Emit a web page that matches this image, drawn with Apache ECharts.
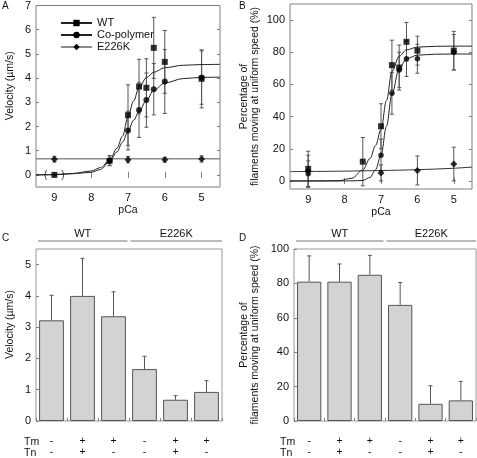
<!DOCTYPE html>
<html><head><meta charset="utf-8">
<script src="https://cdn.jsdelivr.net/npm/echarts@6/dist/echarts.min.js"></script>
<style>html,body{margin:0;padding:0;background:#fff}#c{width:477px;height:458px}</style>
</head><body><div id="c"></div>
<script>
// ---------- Panel A : velocity vs pCa ----------
const pcaWtA = [9, 7.5, 7, 6.7, 6.5, 6.3, 6, 5];
const wtVelA = [0, 0.58, 2.47, 3.65, 3.6, 5.25, 4.67, 3.97];
const wtVelErrA = [0, 0.2, 1.25, 1.13, 1.2, 1.26, 1.3, 1.2];
const pcaCoA = [9, 7.5, 7, 6.7, 6.5, 6.3, 6, 5];
const coVelA = [0, 0.6, 1.83, 2.68, 3.09, 3.54, 3.86, 4.02];
const coVelErrA = [0, 0.2, 0.8, 1.13, 1.12, 1.06, 1.32, 1.1];
const pcaEA = [9, 7, 6, 5];
const eVelA = [0.65, 0.63, 0.63, 0.66];
const eVelErrA = [0.12, 0.13, 0.1, 0.13];
const fitPcaA = [9.5, 9, 8.5, 8, 7.75, 7.5, 7.3, 7.15, 7, 6.85, 6.7, 6.5, 6.3, 6, 5.5, 5, 4.5];
const wtFitA = [0, 0.01, 0.06, 0.16, 0.3, 0.6, 1.1, 1.6, 2.4, 3.05, 3.6, 4.02, 4.24, 4.43, 4.53, 4.56, 4.57];
const coFitA = [0, 0.01, 0.05, 0.11, 0.22, 0.55, 0.95, 1.35, 1.8, 2.25, 2.62, 3.08, 3.5, 3.8, 3.98, 4.03, 4.04];
const eFitPcaA = [9.5, 4.5];
const eFitA = [0.67, 0.67];
const ticksA = [0, 1, 2, 3, 4, 5, 6, 7];
const pcaTicks = [9, 8, 7, 6, 5];

// ---------- Panel B : % uniform vs pCa ----------
const pcaWtB = [9, 7.5, 7, 6.7, 6.5, 6.3, 6, 5];
const wtPctB = [7.5, 12, 34, 72, 70.5, 86.5, 81, 81];
const wtPctErrB = [11, 15, 14, 15.5, 14, 12, 9, 12];
const pcaCoB = [9, 7, 6.7, 6.5, 6.3, 6, 5];
const coPctB = [4.5, 16, 54.5, 69, 76, 76, 80];
const coPctErrB = [8, 10, 13, 11, 11, 9, 11];
const pcaEB = [9, 7, 6, 5];
const ePctB = [6, 5, 6.5, 10.5];
const ePctErrB = [10, 5, 9, 10.5];
const fitPcaB = [9.5, 9, 8.5, 8.15, 7.8, 7.5, 7.3, 7.15, 7, 6.85, 6.7, 6.5, 6.3, 6, 5.5, 5, 4.5];
const wtFitB = [0, 0, 0.05, 0.2, 1.7, 6.8, 14, 22, 32, 50, 68, 77.5, 81.5, 83.2, 83.7, 83.8, 83.8];
const coFitB = [0, 0, 0, 0, 0.05, 0.3, 2.2, 7, 16, 34, 54, 70, 76, 78.2, 78.8, 78.9, 78.9];
const eFitPcaB = [9.5, 8, 7, 6, 5, 4.5];
const eFitB = [5.8, 6.1, 6.5, 7.0, 7.9, 8.6];
const ticksB = [0, 20, 40, 60, 80, 100];

// ---------- Panels C, D : bars ----------
const tmRow = ['-', '+', '+', '-', '+', '+'];
const tnRow = ['-', '+', '-', '-', '+', '-'];
const groups = ['WT', 'E226K'];
const velC = [3.22, 4.0, 3.35, 1.66, 0.68, 0.93];
const velErrC = [0.8, 1.2, 0.78, 0.41, 0.13, 0.36];
const ticksC = [0, 1, 2, 3, 4, 5];
const pctD = [81, 81, 85, 67.5, 10, 12];
const pctErrD = [15, 10.3, 11.3, 13, 10.5, 11];

const FONT = 'Liberation Sans, Arial, sans-serif';
const zip = (xs, ys) => xs.map((x, i) => [x, ys[i]]);
const errData = (xs, ys, es) => xs.map((x, i) => [x, ys[i] - es[i], ys[i] + es[i]]);
const barErr = (ys, es) => ys.map((y, i) => [i, y, y + es[i]]);
const cats = tmRow.map((t, i) => t + '\n' + tnRow[i]);

function errRender(color, capBottom) {
  return function (params, api) {
    const x = api.value(0), lo = api.value(1), hi = api.value(2);
    const a = api.coord([x, lo]), b = api.coord([x, hi]);
    const c = 2;
    const st = { stroke: color, lineWidth: 1 };
    const ch = [
      { type: 'line', shape: { x1: a[0], y1: a[1], x2: b[0], y2: b[1] }, style: st },
      { type: 'line', shape: { x1: b[0] - c, y1: b[1], x2: b[0] + c, y2: b[1] }, style: st }
    ];
    if (capBottom) ch.push({ type: 'line', shape: { x1: a[0] - c, y1: a[1], x2: a[0] + c, y2: a[1] }, style: st });
    return { type: 'group', children: ch };
  };
}

const frame = '#808080';
const labelStyle = { color: '#111', fontSize: 11, fontFamily: FONT };
const nameStyle = { color: '#111', fontSize: 10.5, fontFamily: FONT };

function valX(grid, ticks, showLabel, pos) {
  return {
    type: 'value', gridIndex: grid, min: 4.5, max: 9.5, inverse: true, position: pos,
    axisLine: { show: false }, splitLine: { show: false },
    axisTick: { show: true, inside: true, length: 3, customValues: ticks, lineStyle: { color: frame } },
    axisLabel: { show: showLabel, customValues: ticks, margin: 5, ...labelStyle },
    name: showLabel ? 'pCa' : '', nameLocation: 'middle', nameGap: 18, nameTextStyle: nameStyle
  };
}
function valY(grid, min, max, ticks, showLabel, pos, name, gap, pad) {
  return {
    type: 'value', gridIndex: grid, min: min, max: max, position: pos,
    axisLine: { show: false }, splitLine: { show: false },
    axisTick: { show: true, inside: true, length: 3, customValues: ticks, lineStyle: { color: frame } },
    axisLabel: { show: showLabel, customValues: ticks, margin: 5, ...labelStyle },
    name: name || '', nameLocation: 'middle', nameGap: gap || 20,
    nameTextStyle: { ...nameStyle, lineHeight: 10.5, padding: pad || 0 }
  };
}
function catX(grid) {
  return {
    type: 'category', gridIndex: grid, data: cats,
    axisLine: { show: false },
    axisTick: { show: true, inside: true, length: 3, lineStyle: { color: frame } },
    axisLabel: { margin: 14, color: '#111', fontSize: 10.5, lineHeight: 11.5, fontFamily: FONT }
  };
}

const ptStyle = { color: '#000' };
const series = [
  // Panel A fits (legend entries)
  { name: 'WT', type: 'line', xAxisIndex: 0, yAxisIndex: 0, data: zip(fitPcaA, wtFitA), smooth: 0.35, smoothMonotone: 'x',
    symbol: 'rect', showSymbol: false, lineStyle: { color: '#222', width: 1 }, itemStyle: ptStyle, z: 3, silent: true },
  { name: 'Co-polymer', type: 'line', xAxisIndex: 0, yAxisIndex: 0, data: zip(fitPcaA, coFitA), smooth: 0.35, smoothMonotone: 'x',
    symbol: 'circle', showSymbol: false, lineStyle: { color: '#222', width: 1 }, itemStyle: ptStyle, z: 3, silent: true },
  { name: 'E226K', type: 'line', xAxisIndex: 0, yAxisIndex: 0, data: zip(eFitPcaA, eFitA),
    symbol: 'diamond', showSymbol: false, lineStyle: { color: '#8c8c8c', width: 1.5 }, itemStyle: ptStyle, z: 3, silent: true },
  // Panel A error bars
  { type: 'custom', xAxisIndex: 0, yAxisIndex: 0, data: errData(pcaWtA, wtVelA, wtVelErrA), renderItem: errRender('#555', true), encode: { x: 0, y: [1, 2] }, z: 2 },
  { type: 'custom', xAxisIndex: 0, yAxisIndex: 0, data: errData(pcaCoA, coVelA, coVelErrA), renderItem: errRender('#555', true), encode: { x: 0, y: [1, 2] }, z: 2 },
  { type: 'custom', xAxisIndex: 0, yAxisIndex: 0, data: errData(pcaEA, eVelA, eVelErrA), renderItem: errRender('#555', true), encode: { x: 0, y: [1, 2] }, z: 2 },
  // Panel A points
  { name: 'WT pts', type: 'scatter', xAxisIndex: 0, yAxisIndex: 0, symbol: 'rect', symbolSize: 6, itemStyle: ptStyle, z: 5,
    data: zip(pcaWtA, wtVelA).map((d, i) => i === 0 ? { value: d, label: { show: true, position: 'inside', formatter: '(     )', color: '#000', fontSize: 10, fontFamily: FONT } } : d) },
  { name: 'Co pts', type: 'scatter', xAxisIndex: 0, yAxisIndex: 0, symbol: 'circle', symbolSize: 6, itemStyle: ptStyle, z: 5, data: zip(pcaCoA.slice(1), coVelA.slice(1)) },
  { name: 'E pts', type: 'scatter', xAxisIndex: 0, yAxisIndex: 0, symbol: 'diamond', symbolSize: 7, itemStyle: ptStyle, z: 5, data: zip(pcaEA, eVelA) },

  // Panel B fits
  { type: 'line', xAxisIndex: 2, yAxisIndex: 2, data: zip(fitPcaB, wtFitB), smooth: 0.35, smoothMonotone: 'x', showSymbol: false, symbol: 'none', lineStyle: { color: '#222', width: 1 }, z: 3, silent: true },
  { type: 'line', xAxisIndex: 2, yAxisIndex: 2, data: zip(fitPcaB, coFitB), smooth: 0.35, smoothMonotone: 'x', showSymbol: false, symbol: 'none', lineStyle: { color: '#222', width: 1 }, z: 3, silent: true },
  { type: 'line', xAxisIndex: 2, yAxisIndex: 2, data: zip(eFitPcaB, eFitB), smooth: 0.3, showSymbol: false, symbol: 'none', lineStyle: { color: '#333', width: 1 }, z: 3, silent: true },
  { type: 'custom', xAxisIndex: 2, yAxisIndex: 2, data: errData(pcaWtB, wtPctB, wtPctErrB), renderItem: errRender('#555', true), encode: { x: 0, y: [1, 2] }, z: 2 },
  { type: 'custom', xAxisIndex: 2, yAxisIndex: 2, data: errData(pcaCoB, coPctB, coPctErrB), renderItem: errRender('#555', true), encode: { x: 0, y: [1, 2] }, z: 2 },
  { type: 'custom', xAxisIndex: 2, yAxisIndex: 2, data: errData(pcaEB, ePctB, ePctErrB), renderItem: errRender('#555', true), encode: { x: 0, y: [1, 2] }, z: 2 },
  { type: 'scatter', xAxisIndex: 2, yAxisIndex: 2, symbol: 'rect', symbolSize: 6, itemStyle: ptStyle, z: 5, data: zip(pcaWtB, wtPctB) },
  { type: 'scatter', xAxisIndex: 2, yAxisIndex: 2, symbol: 'circle', symbolSize: 5.5, itemStyle: ptStyle, z: 5, data: zip(pcaCoB, coPctB) },
  { type: 'scatter', xAxisIndex: 2, yAxisIndex: 2, symbol: 'diamond', symbolSize: 7, itemStyle: ptStyle, z: 5, data: zip(pcaEB, ePctB) },

  // Panel C
  { type: 'bar', xAxisIndex: 4, yAxisIndex: 4, data: velC, barCategoryGap: '20%',
    itemStyle: { color: '#d3d3d3', borderColor: '#555', borderWidth: 1 }, silent: true },
  { type: 'custom', xAxisIndex: 4, yAxisIndex: 4, data: barErr(velC, velErrC), renderItem: errRender('#555', false), encode: { x: 0, y: [1, 2] }, z: 3 },
  // Panel D
  { type: 'bar', xAxisIndex: 5, yAxisIndex: 5, data: pctD, barCategoryGap: '20%',
    itemStyle: { color: '#d3d3d3', borderColor: '#555', borderWidth: 1 }, silent: true },
  { type: 'custom', xAxisIndex: 5, yAxisIndex: 5, data: barErr(pctD, pctErrD), renderItem: errRender('#555', false), encode: { x: 0, y: [1, 2] }, z: 3 }
];

const option = {
  animation: false,
  textStyle: { fontFamily: FONT },
  grid: [
    { left: 36, top: 4, width: 184, height: 183, show: true, borderColor: frame, borderWidth: 1 },
    { left: 290, top: 4, width: 182, height: 185, show: true, borderColor: frame, borderWidth: 1 },
    { left: 36, top: 249, width: 186, height: 174.5, show: true, borderColor: '#999', borderWidth: 1 },
    { left: 294, top: 249, width: 182, height: 174.5, show: true, borderColor: '#999', borderWidth: 1 }
  ],
  xAxis: [
    valX(0, pcaTicks, true, 'bottom'), valX(0, pcaTicks, false, 'top'),
    valX(1, pcaTicks, true, 'bottom'), valX(1, pcaTicks, false, 'top'),
    catX(2), catX(3)
  ],
  yAxis: [
    valY(0, -0.5, 7, ticksA, true, 'left', 'Velocity (µm/s)', 21, [0, 0, 0, 21]),
    valY(0, -0.5, 7, ticksA, false, 'right'),
    valY(1, -5, 110, ticksB, true, 'left', 'Percentage of\nfilaments moving at uniform speed (%)', 30, 0),
    valY(1, -5, 110, ticksB, false, 'right'),
    valY(2, 0, 5.5, ticksC, true, 'left', 'Velocity (µm/s)', 21, [0, 0, 0, 21]),
    valY(3, 0, 100, ticksB, true, 'left', 'Percentage of\nfilaments moving at uniform speed (%)', 34, 0)
  ],
  legend: {
    data: ['WT', 'Co-polymer', 'E226K'], orient: 'vertical', left: 55, top: 12,
    itemWidth: 31, itemHeight: 8, itemGap: 0, selectedMode: false,
    textStyle: { fontSize: 11, color: '#111', lineHeight: 12, fontFamily: FONT }
  },
  series: series
};

const chart = echarts.init(document.getElementById('c'), null, { renderer: 'canvas' });
chart.setOption(option);

// annotations: panel letters, group brackets, Tm/Tn row titles
const g = [];
const letter = (t, x, y) => g.push({ type: 'text', left: x, top: y, style: { text: t, fontSize: 10, fill: '#111', fontFamily: FONT } });
letter('A', 2, 1); letter('B', 239, 1); letter('C', 2, 233); letter('D', 239, 233);
[[2, 4], [3, 5]].forEach(([gi, xi]) => {
  const c0 = chart.convertToPixel({ xAxisIndex: xi }, 0);
  const c1 = chart.convertToPixel({ xAxisIndex: xi }, 1);
  const w = c1 - c0;
  const left = c0 - w / 2, mid = left + 3 * w, right = left + 6 * w;
  const segs = [[left + 2, mid - 1.5], [mid + 1.5, right]];
  segs.forEach((s, k) => {
    g.push({ type: 'line', shape: { x1: s[0], y1: 241, x2: s[1], y2: 241 }, style: { stroke: '#777', lineWidth: 1 } });
    g.push({ type: 'text', x: (s[0] + s[1]) / 2, y: 233.5, style: { text: groups[k], fontSize: 11, fill: '#111', fontFamily: FONT, align: 'center', verticalAlign: 'middle' } });
  });
  const tx = gi === 2 ? 24 : 280;
  g.push({ type: 'text', x: tx, y: 442, style: { text: 'Tm', fontSize: 10.5, fill: '#111', fontFamily: FONT, verticalAlign: 'middle' } });
  g.push({ type: 'text', x: tx, y: 453.5, style: { text: 'Tn', fontSize: 10.5, fill: '#111', fontFamily: FONT, verticalAlign: 'middle' } });
});
chart.setOption({ graphic: g });
</script></body></html>
